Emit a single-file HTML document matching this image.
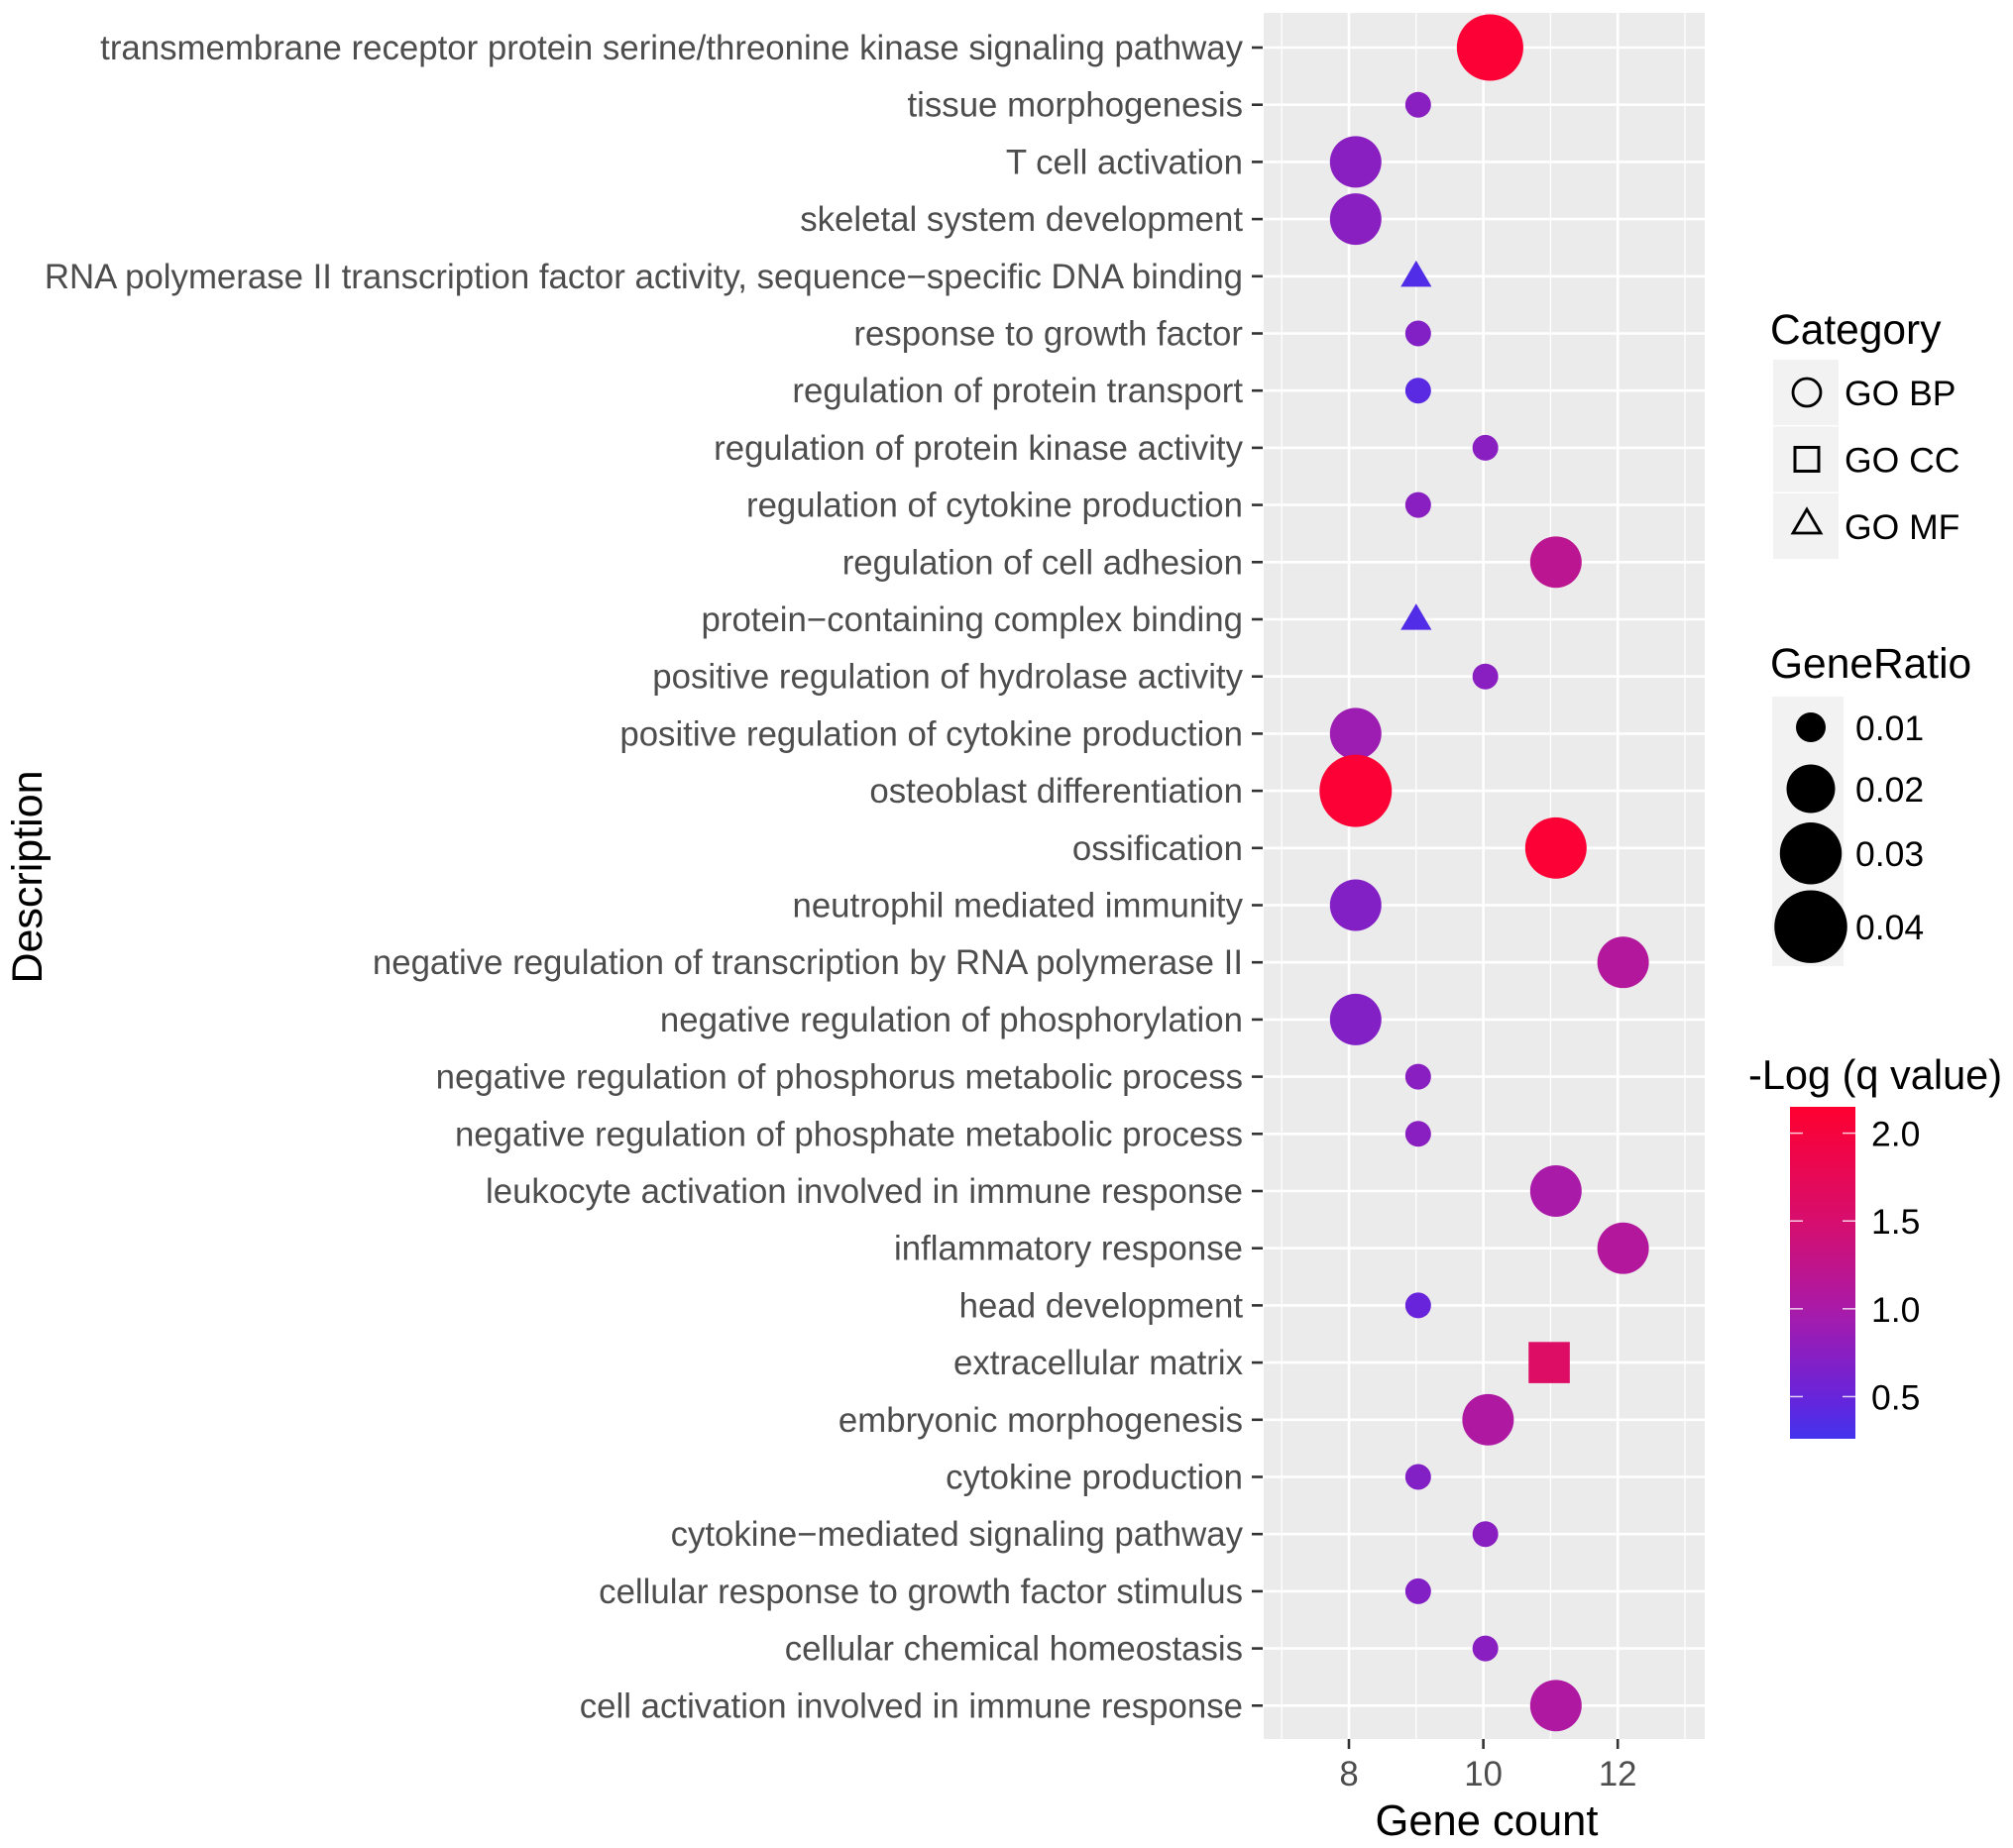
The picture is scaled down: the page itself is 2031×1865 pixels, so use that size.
<!DOCTYPE html>
<html><head><meta charset="utf-8"><style>
html,body{margin:0;padding:0;background:#fff;}
svg{display:block;font-family:"Liberation Sans",Arial,sans-serif;}
</style></head><body>
<svg id="chart" width="2031" height="1865" viewBox="0 0 2031 1865" xmlns="http://www.w3.org/2000/svg">
<rect x="0" y="0" width="2031" height="1865" fill="#fff"/>
<g id="panel"></g>
<g id="ylabels"></g>
<g id="xaxis"></g>
<g id="marks"></g>
<text x="1500" y="1852" font-size="43.5" text-anchor="middle" fill="#000">Gene count</text>
<text transform="translate(42,885) rotate(-90)" font-size="43" text-anchor="middle" fill="#000">Description</text>
<g id="legend"></g>
</svg>
<script>
const terms = ["transmembrane receptor protein serine/threonine kinase signaling pathway","tissue morphogenesis","T cell activation","skeletal system development","RNA polymerase II transcription factor activity, sequence\u2212specific DNA binding","response to growth factor","regulation of protein transport","regulation of protein kinase activity","regulation of cytokine production","regulation of cell adhesion","protein\u2212containing complex binding","positive regulation of hydrolase activity","positive regulation of cytokine production","osteoblast differentiation","ossification","neutrophil mediated immunity","negative regulation of transcription by RNA polymerase II","negative regulation of phosphorylation","negative regulation of phosphorus metabolic process","negative regulation of phosphate metabolic process","leukocyte activation involved in immune response","inflammatory response","head development","extracellular matrix","embryonic morphogenesis","cytokine production","cytokine\u2212mediated signaling pathway","cellular response to growth factor stimulus","cellular chemical homeostasis","cell activation involved in immune response"];
const geneCount = [10.1,9.03,8.1,8.1,9.0,9.03,9.03,10.03,9.03,11.08,9.0,10.03,8.1,8.1,11.08,8.1,12.08,8.1,9.03,9.03,11.08,12.08,9.03,10.98,10.07,9.03,10.03,9.03,10.03,11.08];
const qLog = [2.1,0.75,0.75,0.75,0.35,0.7,0.4,0.75,0.75,1.2,0.35,0.75,0.9,2.1,2.1,0.7,1.1,0.7,0.75,0.75,1.0,1.1,0.5,1.6,1.05,0.7,0.75,0.7,0.75,1.05];
const geneRatio = [0.034,0.0085,0.022,0.022,0.0085,0.0085,0.0085,0.0085,0.0085,0.022,0.0085,0.0085,0.022,0.0395,0.0296,0.022,0.022,0.022,0.0085,0.0085,0.022,0.022,0.0085,0.022,0.022,0.0085,0.0085,0.0085,0.0085,0.022];
const category = ["BP","BP","BP","BP","MF","BP","BP","BP","BP","BP","MF","BP","BP","BP","BP","BP","BP","BP","BP","BP","BP","BP","BP","CC","BP","BP","BP","BP","BP","BP"];
const xTicks = [8,10,12];
const xMinor = [7,9,11,13];
const ratioLegend = [0.01,0.02,0.03,0.04];
const colorTicks = [0.5,1.0,1.5,2.0];

const NS="http://www.w3.org/2000/svg";
function mk(parent,tag,attrs){const e=document.createElementNS(NS,tag);for(const k in attrs)e.setAttribute(k,attrs[k]);parent.appendChild(e);return e;}
const PL=1275,PR=1720,PT=13,PB=1755;
const xs=v=>1361+(v-8)*67.8;
const ys=i=>48+i*57.7;
const dia=r=>Math.sqrt(Math.max(150000*r-600,100));
const stops=[[0.26,[68,51,238]],[0.5,[104,36,218]],[1.0,[170,26,168]],[1.5,[215,14,110]],[2.15,[255,0,48]]];
function col(v){if(v<=stops[0][0])return rgb(stops[0][1]);for(let i=1;i<stops.length;i++){if(v<=stops[i][0]){const t=(v-stops[i-1][0])/(stops[i][0]-stops[i-1][0]);const a=stops[i-1][1],b=stops[i][1];return rgb(a.map((c,j)=>c+(b[j]-c)*t));}}return rgb(stops[stops.length-1][1]);}
function rgb(a){return "rgb("+a.map(Math.round).join(",")+")";}

const panel=document.getElementById('panel');
mk(panel,'rect',{x:PL,y:PT,width:PR-PL,height:PB-PT,fill:'#ebebeb'});
xMinor.forEach(v=>{const l=mk(panel,'line',{x1:xs(v),x2:xs(v),y1:PT,y2:PB,stroke:'#fff','stroke-width':1.3});

});
xTicks.forEach(v=>{const l=mk(panel,'line',{x1:xs(v),x2:xs(v),y1:PT,y2:PB,stroke:'#fff','stroke-width':2.6});

});
terms.forEach((t,i)=>{const l=mk(panel,'line',{x1:PL,x2:PR,y1:ys(i),y2:ys(i),stroke:'#fff','stroke-width':2.6});

});

const yl=document.getElementById('ylabels');
terms.forEach((t,i)=>{
 const tx=mk(yl,'text',{x:1254,y:ys(i)+12,'font-size':34.8,'text-anchor':'end',fill:'#4d4d4d'});tx.textContent=t;
 
 
 const tk=mk(yl,'line',{x1:1263,x2:1274,y1:ys(i),y2:ys(i),stroke:'#333','stroke-width':2.6});
 
 
});
const xa=document.getElementById('xaxis');
xTicks.forEach(v=>{
 const tk=mk(xa,'line',{x1:xs(v),x2:xs(v),y1:PB,y2:PB+10,stroke:'#333','stroke-width':2.6});
 
 
 const tx=mk(xa,'text',{x:xs(v),y:1802,'font-size':34.8,'text-anchor':'middle',fill:'#4d4d4d'});tx.textContent=v;
 
 
});

const mg=document.getElementById('marks');
terms.forEach((t,i)=>{
 const cx=xs(geneCount[i]),cy=ys(i),d=dia(geneRatio[i]),c=col(qLog[i]);let e;
 if(category[i]==="BP"){e=mk(mg,'circle',{cx:cx,cy:cy,r:d/2,fill:c});}
 else if(category[i]==="CC"){const s=d*0.8;e=mk(mg,'rect',{x:cx-s/2,y:cy-s/2,width:s,height:s,fill:c});}
 else{const w=d*1.2,h=w*0.85;e=mk(mg,'polygon',{points:`${cx},${cy-h*0.6} ${cx-w/2},${cy+h*0.4} ${cx+w/2},${cy+h*0.4}`,fill:c});}
 
 
});

const lg=document.getElementById('legend');
function txt(x,y,s,size,anchor){const e=mk(lg,'text',{x:x,y:y,'font-size':size,'text-anchor':anchor||'start',fill:'#000'});e.textContent=s;return e;}
let e=txt(1786,347,'Category',42.5);


const catNames=["GO BP","GO CC","GO MF"];
catNames.forEach((n,k)=>{
 const cy=396+k*67.5;
 const b=mk(lg,'rect',{x:1789,y:cy-33,width:66,height:66,fill:'#f2f2f2'});
 
 
 let s;
 if(k===0)s=mk(lg,'circle',{cx:1823,cy:cy,r:14,fill:'none',stroke:'#000','stroke-width':2.8});
 else if(k===1)s=mk(lg,'rect',{x:1811,y:cy-12,width:24,height:24,fill:'none',stroke:'#000','stroke-width':3});
 else s=mk(lg,'polygon',{points:`1823,${cy-17} 1809,${cy+7} 1837,${cy+7}`,fill:'none',stroke:'#000','stroke-width':2.8});
 
 
 const t=txt(1861,cy+13,n,35.5);
 
 
});
e=txt(1786,684,'GeneRatio',42.5);


let yy=703;
ratioLegend.forEach(r=>{
 const d=dia(r),h=Math.max(d+6,62);
 const b=mk(lg,'rect',{x:1788,y:yy,width:72,height:h,fill:'#f2f2f2'});
 
 
 const c=mk(lg,'circle',{cx:1827,cy:yy+h/2,r:d/2,fill:'#000'});
 
 
 const t=txt(1872,yy+h/2+13,r.toFixed(2),35.5);
 
 
 yy+=h;
});
e=txt(1764,1099,'-Log (q value)',41.5);


const CB0=1117,CB1=1452,vTop=2.15,vBot=0.26;
const cy2=v=>CB1-(v-vBot)/(vTop-vBot)*(CB1-CB0);
const defs=mk(lg,'defs',{});const gr=mk(defs,'linearGradient',{id:'cg',x1:0,y1:1,x2:0,y2:0});
for(let k=0;k<=20;k++){const v=vBot+(vTop-vBot)*k/20;mk(gr,'stop',{offset:(k/20),'stop-color':col(v)});}
const bar=mk(lg,'rect',{x:1806,y:CB0,width:66,height:CB1-CB0,fill:'url(#cg)'});


colorTicks.forEach(v=>{
 const y=cy2(v);
 mk(lg,'line',{x1:1806,x2:1819,y1:y,y2:y,stroke:'#fff','stroke-width':1.5,opacity:0.8});
 mk(lg,'line',{x1:1859,x2:1872,y1:y,y2:y,stroke:'#fff','stroke-width':1.5,opacity:0.8});
 const t=txt(1888,y+13,v.toFixed(1),35.5);
 
 
});
</script>
</body></html>
